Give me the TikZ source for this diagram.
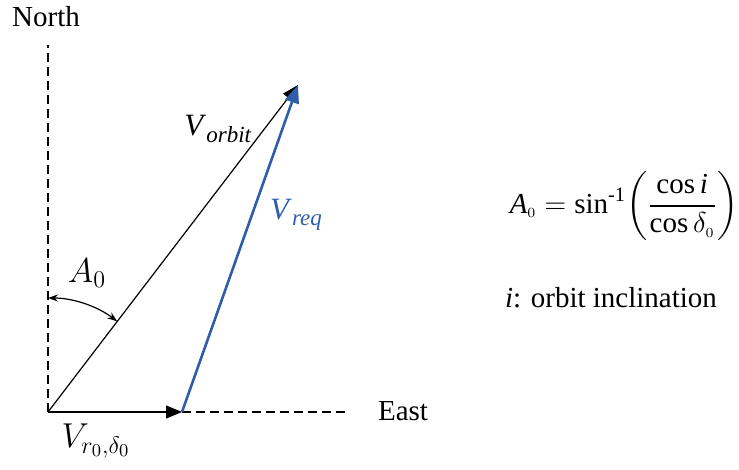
\documentclass[tikz,border=0pt]{standalone}
\usepackage{amsmath}
\usepackage{fontspec}
\setmainfont{Liberation Serif}
\usetikzlibrary{arrows.meta}
\definecolor{reqblue}{RGB}{46,94,170}
\begin{document}
\begin{tikzpicture}[x=0.5pt,y=-0.5pt,
  every node/.style={inner sep=0pt,font=\fontsize{14.5}{17}\selectfont},
  axisline/.style={line width=0.6pt,dash pattern=on 4.5pt off 2.5pt},
  vecline/.style={line width=0.6pt,-{Triangle[length=8pt,width=6.5pt]}},
  reqline/.style={line width=1.3pt,draw=reqblue,-{Triangle[length=9pt,width=7pt,fill=reqblue]}},
  arcline/.style={line width=0.6pt,{Stealth[length=5pt,width=3.5pt]}-{Stealth[length=5pt,width=3.5pt]}}]
\useasboundingbox (0,0) rectangle (739,470);
\coordinate (O) at (48,412);
\coordinate (N) at (48,45);
\coordinate (E) at (345,412);
\coordinate (H) at (182,412);
\coordinate (T) at (298,85);
\coordinate (A) at (48,298);
% axes
\draw[axisline] (O) -- (N);
\draw[axisline] (H) -- (E);
% vectors
\draw[vecline] (O) -- (T);
\draw[vecline] (O) -- (H);
\draw[reqline] (H) -- (T);
% angle arc
\draw[arcline] (A) arc[start angle=-90,end angle=-52.6,radius=114];
% labels
\node (north) at (46,17) {North};
\node (east) at (403,411) {East};
\node (vorb) at (218,129) {\fontsize{15.5}{17}\selectfont\textit{V}\raisebox{-0.45ex}{\fontsize{11.5}{13}\selectfont\textit{orbit}}};
\node[text=reqblue] (vreq) at (296,215) {\fontsize{15.5}{17}\selectfont\textit{V}\raisebox{-0.45ex}{\fontsize{11.5}{13}\selectfont\textit{req}}};
\node (a0) at (87,273) {\fontsize{17}{20}\selectfont$A_0$};
\node (vr) at (96,441) {\fontsize{18}{20}\selectfont$V_{r_0,\delta_0}$};
\node (formula) at (624,206) {\fontsize{14.5}{17}\selectfont $\textit{A}_{\scriptscriptstyle 0}=\text{sin}^{\text{-1}}\!\left(\dfrac{\text{cos}\,\textit{i}}{\text{cos}\,\delta_{\scriptscriptstyle 0}}\right)$};
\node (incl) at (611,298) {\textit{i}: orbit inclination};
\end{tikzpicture}
\end{document}
